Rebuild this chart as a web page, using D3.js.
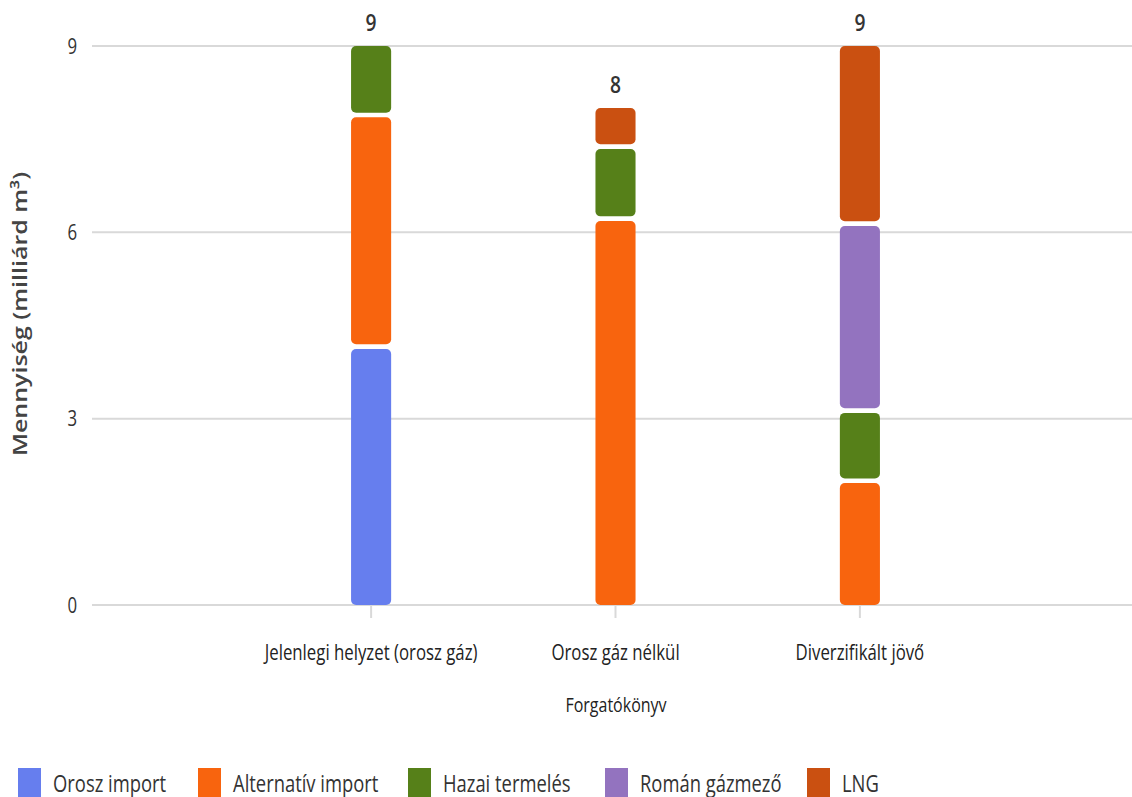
<!DOCTYPE html>
<html>
<head>
<meta charset="utf-8">
<script src="https://cdn.jsdelivr.net/npm/d3@7/dist/d3.min.js"></script>
<style>
  html, body { margin: 0; padding: 0; background: #fff; overflow: hidden; }
  svg { display: block; }
  text { font-family: "Open Sans", "Noto Sans", sans-serif; }
</style>
</head>
<body>
<svg id="chart" width="1132" height="797"></svg>
<script>
// ---- Data ----
const categories = ["Jelenlegi helyzet (orosz gáz)", "Orosz gáz nélkül", "Diverzifikált jövő"];
const seriesNames = ["Orosz import", "Alternatív import", "Hazai termelés", "Román gázmező", "LNG"];
const seriesColors = ["#667EEE", "#F8640E", "#568019", "#9373BF", "#CA5011"];
const orosz      = [4.16, 0,    0];
const alternativ = [3.73, 6.22, 2.0];
const hazai      = [1.11, 1.16, 1.13];
const roman      = [0,    0,    3.01];
const lng        = [0,    0.62, 2.86];
const totalLabels = ["9", "8", "9"];
const yTicks = [0, 3, 6, 9];
const yTitle = "Mennyiség (milliárd m³)";
const xTitle = "Forgatókönyv";

const seriesValues = [orosz, alternativ, hazai, roman, lng];

// ---- Layout ----
const SX = 0.8; // horizontal squeeze of the text glyphs
const svg = d3.select("#chart");
const x = d3.scaleBand().domain(categories).range([92, 1139]).paddingInner(0.836).paddingOuter(1.06);
const y = d3.scaleLinear().domain([0, 9]).range([605, 46]);

function placeText(sel, px, py, extra) {
  sel.attr("transform", `translate(${px},${py}) scale(${SX},1)` + (extra || ""));
}

// grid
svg.append("g").selectAll("line").data(yTicks).join("line")
  .attr("x1", 92).attr("x2", 1140)
  .attr("y1", d => y(d)).attr("y2", d => y(d))
  .attr("stroke", "#d9d9d9").attr("stroke-width", 2);

// y tick labels
svg.append("g").selectAll("text").data(yTicks).join("text")
  .text(d => d)
  .attr("text-anchor", "end")
  .attr("font-size", 21)
  .attr("fill", "#333")
  .each(function(d) { placeText(d3.select(this), 77, y(d) + 7.5); });

// x ticks
svg.append("g").selectAll("line").data(categories).join("line")
  .attr("x1", d => x(d) + x.bandwidth() / 2).attr("x2", d => x(d) + x.bandwidth() / 2)
  .attr("y1", 606).attr("y2", 618)
  .attr("stroke", "#d9d9d9").attr("stroke-width", 2);

// x labels
svg.append("g").selectAll("text").data(categories).join("text")
  .text(d => d)
  .attr("text-anchor", "middle")
  .attr("font-size", 21)
  .attr("fill", "#222")
  .each(function(d) { placeText(d3.select(this), x(d) + x.bandwidth() / 2, 660); });

// axis titles
svg.append("text").text(xTitle)
  .attr("text-anchor", "middle").attr("font-size", 20).attr("fill", "#222")
  .call(s => placeText(s, 616, 712));
svg.append("text").text(yTitle)
  .attr("text-anchor", "middle").attr("font-size", 25).attr("font-weight", 600).attr("fill", "#444")
  .call(s => placeText(s, 27, 314, " rotate(-90)"));

// stacked segments
const GAP = 2.3;
categories.forEach((cat, ci) => {
  const vals = seriesValues.map(s => s[ci]);
  const segs = [];
  let acc = 0;
  vals.forEach((v, si) => {
    if (v > 0) { segs.push({ si, y0: acc, y1: acc + v }); acc += v; }
  });
  segs.forEach((s, k) => {
    s.bottomPad = k === 0 ? 0 : GAP;
    s.topPad = k === segs.length - 1 ? 0 : GAP;
  });
  svg.append("g").selectAll("rect").data(segs).join("rect")
    .attr("x", x(cat))
    .attr("width", x.bandwidth())
    .attr("y", d => y(d.y1) + d.topPad)
    .attr("height", d => y(d.y0) - y(d.y1) - d.topPad - d.bottomPad)
    .attr("rx", 5).attr("ry", 5)
    .attr("fill", d => seriesColors[d.si]);
  // total label
  svg.append("text").text(totalLabels[ci])
    .attr("text-anchor", "middle").attr("font-size", 24).attr("font-weight", 600).attr("fill", "#333")
    .call(s => placeText(s, x(cat) + x.bandwidth() / 2, y(acc) - 15));
});

// legend
const legendX = [18, 198, 408, 605, 807];
const lg = svg.append("g").selectAll("g").data(seriesNames).join("g");
lg.append("rect")
  .attr("x", (d, i) => legendX[i]).attr("y", 768)
  .attr("width", 23).attr("height", 30)
  .attr("fill", (d, i) => seriesColors[i]);
lg.append("text").text(d => d)
  .attr("font-size", 23).attr("fill", "#333")
  .each(function(d, i) { placeText(d3.select(this), legendX[i] + 35, 792); });
</script>
</body>
</html>
